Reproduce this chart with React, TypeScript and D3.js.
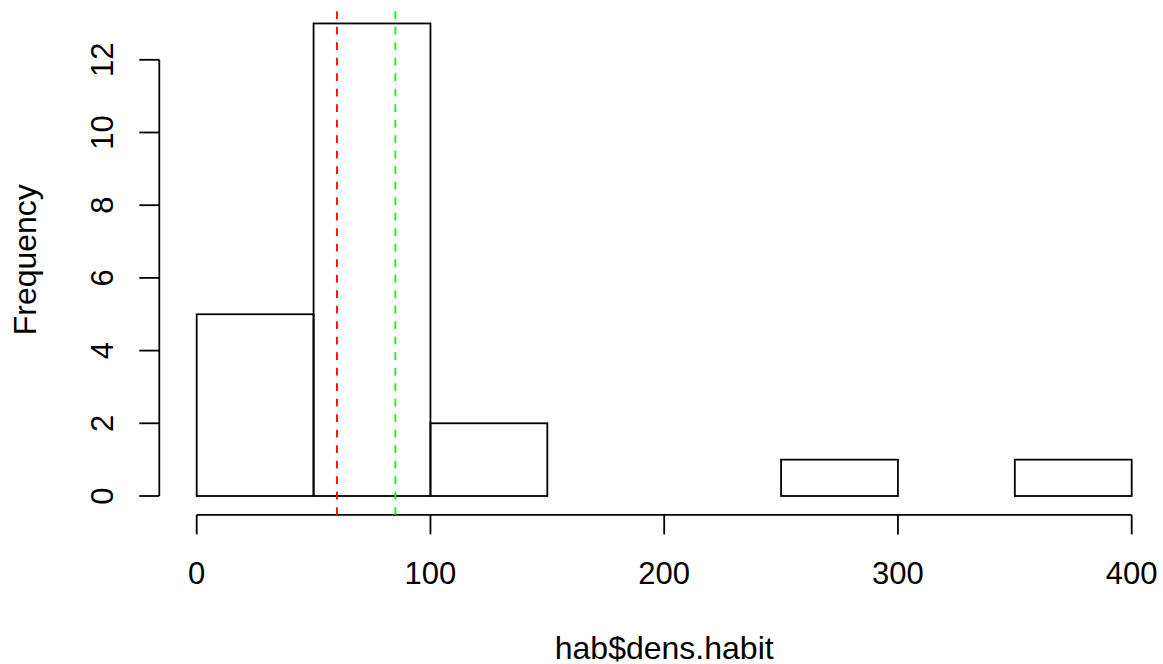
import React from "react";
import * as d3 from "d3";

const binEdges = [0, 50, 100, 150, 200, 250, 300, 350, 400];
const counts = [5, 13, 2, 0, 0, 1, 0, 1];
const xTicks = [0, 100, 200, 300, 400];
const yTicks = [0, 2, 4, 6, 8, 10, 12];
const meanLines = [
  { value: 60, color: "#FF0000" },
  { value: 85, color: "#00FF00" },
];
const xTitle = "hab$dens.habit";
const yTitle = "Frequency";

const W = 1163;
const H = 664;
const FONT = "'Liberation Sans', Arial, Helvetica, sans-serif";

export default function App() {
  const x = d3.scaleLinear().domain([0, 400]).range([196.7, 1131.7]);
  const y = d3.scaleLinear().domain([0, 13]).range([496, 496 - 13 * 36.35]);
  const plotLeft = x(-16);
  const plotRight = x(416);
  const plotTop = y(13.52);
  const plotBottom = y(-0.52);
  const axisY = plotBottom;
  const axisX = plotLeft;
  const sw = 1.8;
  const fsTick = 31;
  const fsTitle = 32;

  return (
    <svg
      width={W}
      height={H}
      style={{ position: "absolute", left: 0, top: 0, display: "block", background: "#fff" }}
      xmlns="http://www.w3.org/2000/svg"
    >
      <defs>
        <clipPath id="plotClip">
          <rect x={plotLeft} y={plotTop} width={plotRight - plotLeft} height={plotBottom - plotTop} />
        </clipPath>
      </defs>
      <rect x={0} y={0} width={W} height={H} fill="#fff" />
      {/* bars */}
      <g>
        {counts.map((c, i) => (
          <rect
            key={i}
            x={x(binEdges[i])}
            y={y(c)}
            width={x(binEdges[i + 1]) - x(binEdges[i])}
            height={y(0) - y(c)}
            fill="none"
            stroke="#000"
            strokeWidth={sw}
          />
        ))}
      </g>
      {/* x axis */}
      <g stroke="#000" strokeWidth={sw} fill="none">
        <line x1={x(xTicks[0])} x2={x(xTicks[xTicks.length - 1])} y1={axisY} y2={axisY} />
        {xTicks.map((t) => (
          <line key={t} x1={x(t)} x2={x(t)} y1={axisY} y2={axisY + 19.5} />
        ))}
      </g>
      <g fontFamily={FONT} fontSize={fsTick} fill="#000" textAnchor="middle">
        {xTicks.map((t) => (
          <text key={t} x={x(t)} y={583.5}>
            {t}
          </text>
        ))}
      </g>
      {/* y axis */}
      <g stroke="#000" strokeWidth={sw} fill="none">
        <line x1={axisX} x2={axisX} y1={y(yTicks[0])} y2={y(yTicks[yTicks.length - 1])} />
        {yTicks.map((t) => (
          <line key={t} x1={axisX} x2={axisX - 20} y1={y(t)} y2={y(t)} />
        ))}
      </g>
      <g fontFamily={FONT} fontSize={fsTick} fill="#000" textAnchor="middle">
        {yTicks.map((t) => (
          <text key={t} transform={`translate(113,${y(t)}) rotate(-90)`}>
            {t}
          </text>
        ))}
      </g>
      {/* mean lines */}
      <g clipPath="url(#plotClip)">
        {meanLines.map((m) => (
          <line
            key={m.value}
            x1={x(m.value)}
            x2={x(m.value)}
            y1={plotBottom}
            y2={plotTop}
            stroke={m.color}
            strokeWidth={sw}
            strokeDasharray="7.7 7.8"
          />
        ))}
      </g>
      {/* titles */}
      <text
        x={(plotLeft + plotRight) / 2}
        y={658.5}
        fontFamily={FONT}
        fontSize={fsTitle}
        textAnchor="middle"
        fill="#000"
      >
        {xTitle}
      </text>
      <text
        transform={`translate(36,${(plotTop + plotBottom) / 2}) rotate(-90)`}
        fontFamily={FONT}
        fontSize={fsTitle}
        textAnchor="middle"
        fill="#000"
      >
        {yTitle}
      </text>
    </svg>
  );
}
